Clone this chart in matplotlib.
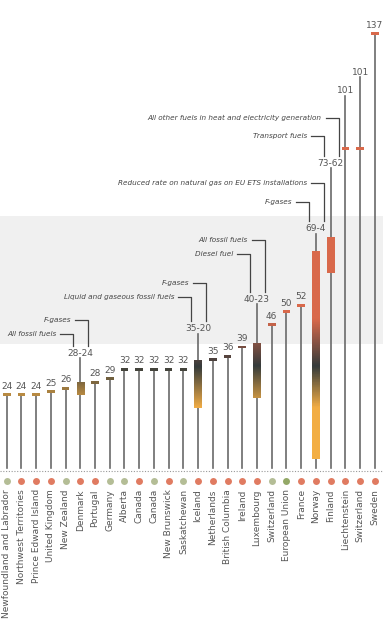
import matplotlib
matplotlib.use("Agg")
import numpy as np
import matplotlib.pyplot as plt
from matplotlib.colors import LinearSegmentedColormap, Normalize

# Carbon prices (USD/tCO2), one stem per jurisdiction
countries = [
    "Newfoundland and Labrador", "Northwest Territories", "Prince Edward Island",
    "United Kingdom", "New Zealand", "Denmark", "Portugal", "Germany", "Alberta",
    "Canada", "Canada", "New Brunswick", "Saskatchewan", "Iceland", "Netherlands",
    "British Columbia", "Ireland", "Luxembourg", "Switzerland", "European Union",
    "France", "Norway", "Finland", "Liechtenstein", "Switzerland", "Sweden",
]
price_high = [24, 24, 24, 25, 26, 28, 28, 29, 32, 32, 32, 32, 32, 35, 35, 36,
              39, 40, 46, 50, 52, 69, 73, 101, 101, 137]
price_low = [None, None, None, None, None, 24, None, None, None, None, None, None,
             None, 20, None, None, None, 23, None, None, None, 4, 62, None, None, None]
scheme = ["ets", "tax", "tax", "tax", "ets", "tax", "tax", "ets", "ets", "tax",
          "ets", "tax", "ets", "tax", "tax", "tax", "tax", "tax", "ets", "eu",
          "tax", "tax", "tax", "tax", "tax", "tax"]

# price range recommended for 2020 (grey band)
corridor = [40, 80]

# notes for the ranges: (jurisdiction index, side, text)
notes = [
    (5, "left", "All fossil fuels"),
    (5, "right", "F-gases"),
    (13, "left", "Liquid and gaseous fossil fuels"),
    (13, "right", "F-gases"),
    (17, "left", "Diesel fuel"),
    (17, "right", "All fossil fuels"),
    (21, "left", "F-gases"),
    (21, "right", "Reduced rate on natural gas on EU ETS installations"),
    (22, "left", "Transport fuels"),
    (22, "right", "All other fuels in heat and electricity generation"),
]

# layout only: raised label baselines and note heights
raised = {5: 36.2, 13: 44.0, 17: 53.1, 21: 75.3, 22: 95.7, 23: 118.4, 24: 124.2}
note_y = [43.1, 47.5, 54.5, 59.1, 68.1, 72.5, 84.4, 90.4, 104.9, 110.7]

TEXT = "#555555"
DOT = {"ets": "#b4bd96", "tax": "#e07b61", "eu": "#93a867"}
cmap = LinearSegmentedColormap.from_list(
    "price", [(0, "#f4b044"), (20 / 60, "#f2ad45"), (33 / 60, "#353b3b"),
              (48 / 60, "#d9694b"), (1, "#d9694b")])
norm = Normalize(0, 60)


def main():
    fig = plt.figure(figsize=(3.91, 6.31), dpi=100)
    ax = fig.add_axes([0, 0, 1, 1])
    n = len(countries)
    x = np.arange(n)

    ax.axhspan(corridor[0], corridor[1], xmin=0, xmax=(25.54 + 0.455) / 26.56,
               color="#f0f0f0", zorder=0, lw=0)
    ax.plot([-0.455, 25.54], [0.3, 0.3], ls=(0, (1, 1.5)), color="#999999", lw=0.8)

    for i in range(n):
        hi = price_high[i]
        lo = price_low[i]
        top = raised[i] - 0.8 if i in raised else hi
        ax.plot([i, i], [1.0, top], color="#6a6a6a", lw=1.2, zorder=2)

        if lo is None:
            ax.bar(i, 0.9, bottom=hi - 0.45, width=0.52, color=cmap(norm(hi)),
                   zorder=3, lw=0)
        else:
            grad = np.linspace(lo, hi, 200).reshape(-1, 1)
            ax.imshow(grad, cmap=cmap, norm=norm, origin="lower", aspect="auto",
                      extent=[i - 0.25, i + 0.25, lo, hi], zorder=3)

        label = str(hi) if lo is None else f"{hi}-{lo}"
        ly = raised.get(i, hi + 1.9)
        ax.text(i, ly, label, ha="center", va="baseline", fontsize=6.5,
                color=TEXT, zorder=4)

        ax.plot(i, -2.9, "o", ms=5, color=DOT[scheme[i]], mew=0, zorder=3)
        ax.text(i, -5.5, countries[i], rotation=90, ha="center", va="top",
                fontsize=6.5, color=TEXT)

    # elbow connectors from notes to range labels
    for (i, side, txt), y in zip(notes, note_y):
        cx = i - 0.47 if side == "left" else i + 0.54
        ax.plot([cx - 0.88, cx, cx], [y, y, raised[i] + 3.2],
                color="#444444", lw=0.9, zorder=4)
        ax.text(cx - 0.88 - 0.27, y, txt, ha="right", va="center", fontsize=5.2,
                style="italic", color="#444444")

    ax.set_xlim(-0.455, 26.1)
    ax.set_ylim(-49.9, 147.6)
    ax.axis("off")
    fig.savefig("out.png", dpi=100)


if __name__ == "__main__":
    main()
